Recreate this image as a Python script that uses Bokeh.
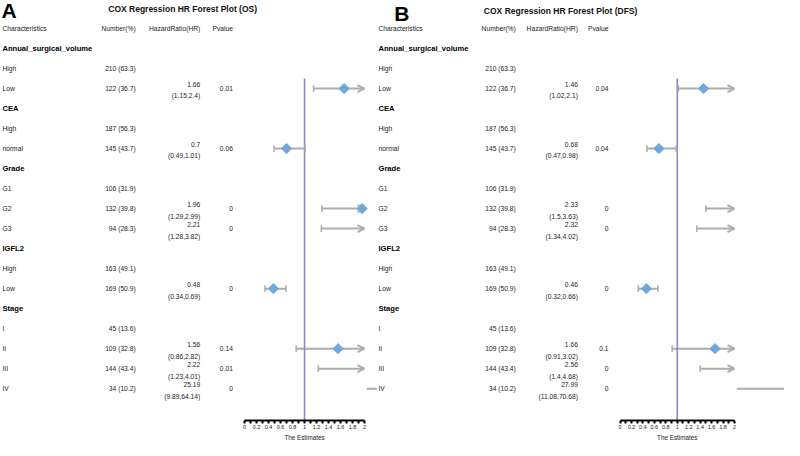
import numpy as np
from bokeh.plotting import figure
from bokeh.models import Range1d, LinearAxis, FixedTicker, ColumnDataSource, Arrow, OpenHead, Title
from bokeh.layouts import row
from bokeh.embed import file_html
from bokeh.resources import INLINE
from bokeh.core.properties import value

nan = float("nan")

# ---------------- data ----------------
characteristics = ["Annual_surgical_volume", "High", "Low", "CEA", "High", "normal",
                   "Grade", "G1", "G2", "G3", "IGFL2", "High", "Low",
                   "Stage", "I", "II", "III", "IV"]
is_group = [True, False, False, True, False, False, True, False, False, False,
            True, False, False, True, False, False, False, False]
numbers = ["", "210 (63.3)", "122 (36.7)", "", "187 (56.3)", "145 (43.7)",
           "", "106 (31.9)", "132 (39.8)", "94 (28.3)", "", "163 (49.1)", "169 (50.9)",
           "", "45 (13.6)", "109 (32.8)", "144 (43.4)", "34 (10.2)"]

os_hr = [nan, nan, 1.66, nan, nan, 0.7, nan, nan, 1.96, 2.21, nan, nan, 0.48, nan, nan, 1.56, 2.22, 25.19]
os_lo = [nan, nan, 1.15, nan, nan, 0.49, nan, nan, 1.29, 1.28, nan, nan, 0.34, nan, nan, 0.86, 1.23, 9.89]
os_hi = [nan, nan, 2.4, nan, nan, 1.01, nan, nan, 2.99, 3.82, nan, nan, 0.69, nan, nan, 2.82, 4.01, 64.14]
os_p = [nan, nan, 0.01, nan, nan, 0.06, nan, nan, 0, 0, nan, nan, 0, nan, nan, 0.14, 0.01, 0]

dfs_hr = [nan, nan, 1.46, nan, nan, 0.68, nan, nan, 2.33, 2.32, nan, nan, 0.46, nan, nan, 1.66, 2.56, 27.99]
dfs_lo = [nan, nan, 1.02, nan, nan, 0.47, nan, nan, 1.5, 1.34, nan, nan, 0.32, nan, nan, 0.91, 1.4, 11.08]
dfs_hi = [nan, nan, 2.1, nan, nan, 0.98, nan, nan, 3.63, 4.02, nan, nan, 0.66, nan, nan, 3.02, 4.68, 70.68]
dfs_p = [nan, nan, 0.04, nan, nan, 0.04, nan, nan, 0, 0, nan, nan, 0, nan, nan, 0.1, 0, 0]

headers = ["Characteristics", "Number(%)", "HazardRatio(HR)", "Pvalue"]
est_ticks = [0, 0.2, 0.4, 0.6, 0.8, 1, 1.2, 1.4, 1.6, 1.8, 2]
est_minor = [0.1, 0.3, 0.5, 0.7, 0.9, 1.1, 1.3, 1.5, 1.7, 1.9]
ref_value = 1
x_limit = 2
axis_title = "The Estimates"

FONT = "Liberation Sans"
GRAY = "#ADADAD"
BLUE = "#6FA8DC"
VLINE = "#8B8EC6"
TXT = "#222222"
H = 440
Y_BOTTOM = 19.59
Y_TOP = -1.40
AXIS_TITLE_SIZE = 6.3
AXIS_TITLE_WIDTH = 40.3  # approx rendered width (px) of the axis title


def fmt(v):
    return f"{v:g}"


def panel(title, letter, hr, lo, hi, pv, width, xr, est_range, cols, title_pos, letter_pos):
    p = figure(width=width, height=H, x_range=Range1d(*xr), y_range=Range1d(Y_BOTTOM, Y_TOP),
               output_backend="svg", toolbar_location=None,
               x_axis_location=None, y_axis_location=None,
               min_border_left=0, min_border_right=0, min_border_top=0, min_border_bottom=16)
    p.extra_x_ranges = {"est": Range1d(*est_range)}
    p.outline_line_color = None
    p.xgrid.visible = False
    p.ygrid.visible = False
    p.background_fill_color = "white"
    p.border_fill_color = "white"

    xlab, xnum, xhr, xp = cols
    rows = list(range(1, len(characteristics) + 1))

    # title & letter
    p.text(x=[title_pos[0]], y=[title_pos[1]], text=[title], text_font=value(FONT),
           text_font_style="bold", text_font_size="8.5px", text_align="center",
           text_baseline="middle", text_color="#111111")
    p.text(x=[letter_pos[0]], y=[letter_pos[1]], text=[letter], text_font=value(FONT),
           text_font_style="bold", text_font_size="21px", text_align="left",
           text_baseline="middle", text_color="black")

    # header
    p.text(x=[xlab], y=[0], text=[headers[0]], text_font=value(FONT), text_font_size="6.7px",
           text_align="left", text_baseline="middle", text_color=TXT)
    p.text(x=[xnum, xhr, xp], y=[0, 0, 0], text=headers[1:], text_font=value(FONT),
           text_font_size="6.7px", text_align="right", text_baseline="middle", text_color=TXT)

    # labels
    gy = [r for r, g in zip(rows, is_group) if g]
    gt = [c for c, g in zip(characteristics, is_group) if g]
    iy = [r for r, g in zip(rows, is_group) if not g]
    it = [c for c, g in zip(characteristics, is_group) if not g]
    p.text(x=[xlab] * len(gy), y=gy, text=gt, text_font=value(FONT), text_font_style="bold",
           text_font_size="7.6px", text_align="left", text_baseline="middle", text_color="black")
    p.text(x=[xlab] * len(iy), y=iy, text=it, text_font=value(FONT), text_font_size="6.7px",
           text_align="left", text_baseline="middle", text_color=TXT)

    # numbers
    ny = [r for r, n in zip(rows, numbers) if n]
    nt = [n for n in numbers if n]
    p.text(x=[xnum] * len(ny), y=ny, text=nt, text_font=value(FONT), text_font_size="6.7px",
           text_align="right", text_baseline="middle", text_color=TXT)

    # HR / CI / p
    ry = [r for r, v in zip(rows, hr) if not np.isnan(v)]
    idx = [i for i, v in enumerate(hr) if not np.isnan(v)]
    p.text(x=[xhr] * len(ry), y=[r - 0.21 for r in ry], text=[fmt(hr[i]) for i in idx],
           text_font=value(FONT), text_font_size="6.7px", text_align="right",
           text_baseline="middle", text_color=TXT)
    p.text(x=[xhr] * len(ry), y=[r + 0.37 for r in ry],
           text=[f"({fmt(lo[i])},{fmt(hi[i])})" for i in idx],
           text_font=value(FONT), text_font_size="6.7px", text_align="right",
           text_baseline="middle", text_color=TXT)
    p.text(x=[xp] * len(ry), y=ry, text=[fmt(pv[i]) for i in idx],
           text_font=value(FONT), text_font_size="6.7px", text_align="right",
           text_baseline="middle", text_color=TXT)

    # reference line
    p.segment(x0=[ref_value], x1=[ref_value], y0=[2.5], y1=[Y_BOTTOM], x_range_name="est",
              line_color=VLINE, line_width=1.6)

    # forest marks
    seg = dict(x0=[], x1=[], y=[])
    caps = dict(x=[], y0=[], y1=[])
    arr = dict(x0=[], x1=[], y=[])
    over = dict(x0=[], x1=[], y=[])
    dia = dict(x=[], y=[])
    for i in idx:
        r = rows[i]
        if lo[i] > x_limit:
            over["x0"].append(x_limit + 0.04)
            over["x1"].append(est_range[1] + 1)
            over["y"].append(r)
            continue
        caps["x"].append(lo[i]); caps["y0"].append(r - 0.17); caps["y1"].append(r + 0.17)
        if hi[i] > x_limit:
            arr["x0"].append(lo[i]); arr["x1"].append(x_limit); arr["y"].append(r)
        else:
            seg["x0"].append(lo[i]); seg["x1"].append(hi[i]); seg["y"].append(r)
            caps["x"].append(hi[i]); caps["y0"].append(r - 0.17); caps["y1"].append(r + 0.17)
        if hr[i] <= x_limit:
            dia["x"].append(hr[i]); dia["y"].append(r)

    p.segment(x0="x0", x1="x1", y0="y", y1="y", source=ColumnDataSource(seg),
              x_range_name="est", line_color=GRAY, line_width=2)
    p.segment(x0="x", x1="x", y0="y0", y1="y1", source=ColumnDataSource(caps),
              x_range_name="est", line_color=GRAY, line_width=1.5)
    p.segment(x0="x0", x1="x1", y0="y", y1="y", source=ColumnDataSource(over),
              x_range_name="est", line_color=GRAY, line_width=2)
    asrc = ColumnDataSource(arr)
    p.add_layout(Arrow(x_start="x0", y_start="y", x_end="x1", y_end="y", source=asrc,
                       x_range_name="est", line_color=GRAY, line_width=2, level="underlay",
                       end=OpenHead(size=7, line_color=GRAY, line_width=2)))
    p.scatter(x="x", y="y", source=ColumnDataSource(dia), x_range_name="est",
              marker="square", angle=np.pi / 4, size=7.2, fill_color=BLUE, line_color=BLUE)

    ax = LinearAxis(x_range_name="est", bounds=(0, x_limit),
                    ticker=FixedTicker(ticks=est_ticks, minor_ticks=est_minor))
    ax.major_label_overrides = {t: fmt(t) for t in est_ticks}
    ax.axis_line_width = 2
    ax.axis_line_color = "black"
    ax.major_tick_line_width = 2
    ax.minor_tick_line_width = 2
    ax.major_tick_in = 0
    ax.major_tick_out = 3
    ax.minor_tick_in = 0
    ax.minor_tick_out = 3
    ax.major_label_standoff = 1
    ax.major_label_text_font = FONT
    ax.major_label_text_font_size = "5.5px"
    ax.major_label_text_color = "#222222"
    p.add_layout(ax, "below")

    # axis title centred under the bounded axis
    mid = (est_ticks[0] + est_ticks[-1]) / 2
    mid_px = (mid - est_range[0]) / (est_range[1] - est_range[0]) * width
    p.add_layout(Title(text=axis_title, align="left", offset=mid_px - AXIS_TITLE_WIDTH / 2,
                       text_font=FONT, text_font_size=f"{AXIS_TITLE_SIZE}px",
                       text_font_style="normal", text_color="#222222", standoff=0), "below")
    return p


pA = panel("COX Regression HR Forest Plot (OS)", "A", os_hr, os_lo, os_hi, os_p,
           width=377, xr=(0, 385), est_range=(-4.0735, 2.2173),
           cols=(2, 138, 204, 237.3), title_pos=(186, -0.97), letter_pos=(1, -0.92))
pB = panel("COX Regression HR Forest Plot (DFS)", "B", dfs_hr, dfs_lo, dfs_hi, dfs_p,
           width=407, xr=(385, 800), est_range=(-4.2382, 2.874),
           cols=(386, 526, 589.3, 620.5), title_pos=(571.7, -0.90), letter_pos=(402, -0.76))

layout = row(pA, pB)
open("out.html", "w").write(file_html(layout, INLINE))
